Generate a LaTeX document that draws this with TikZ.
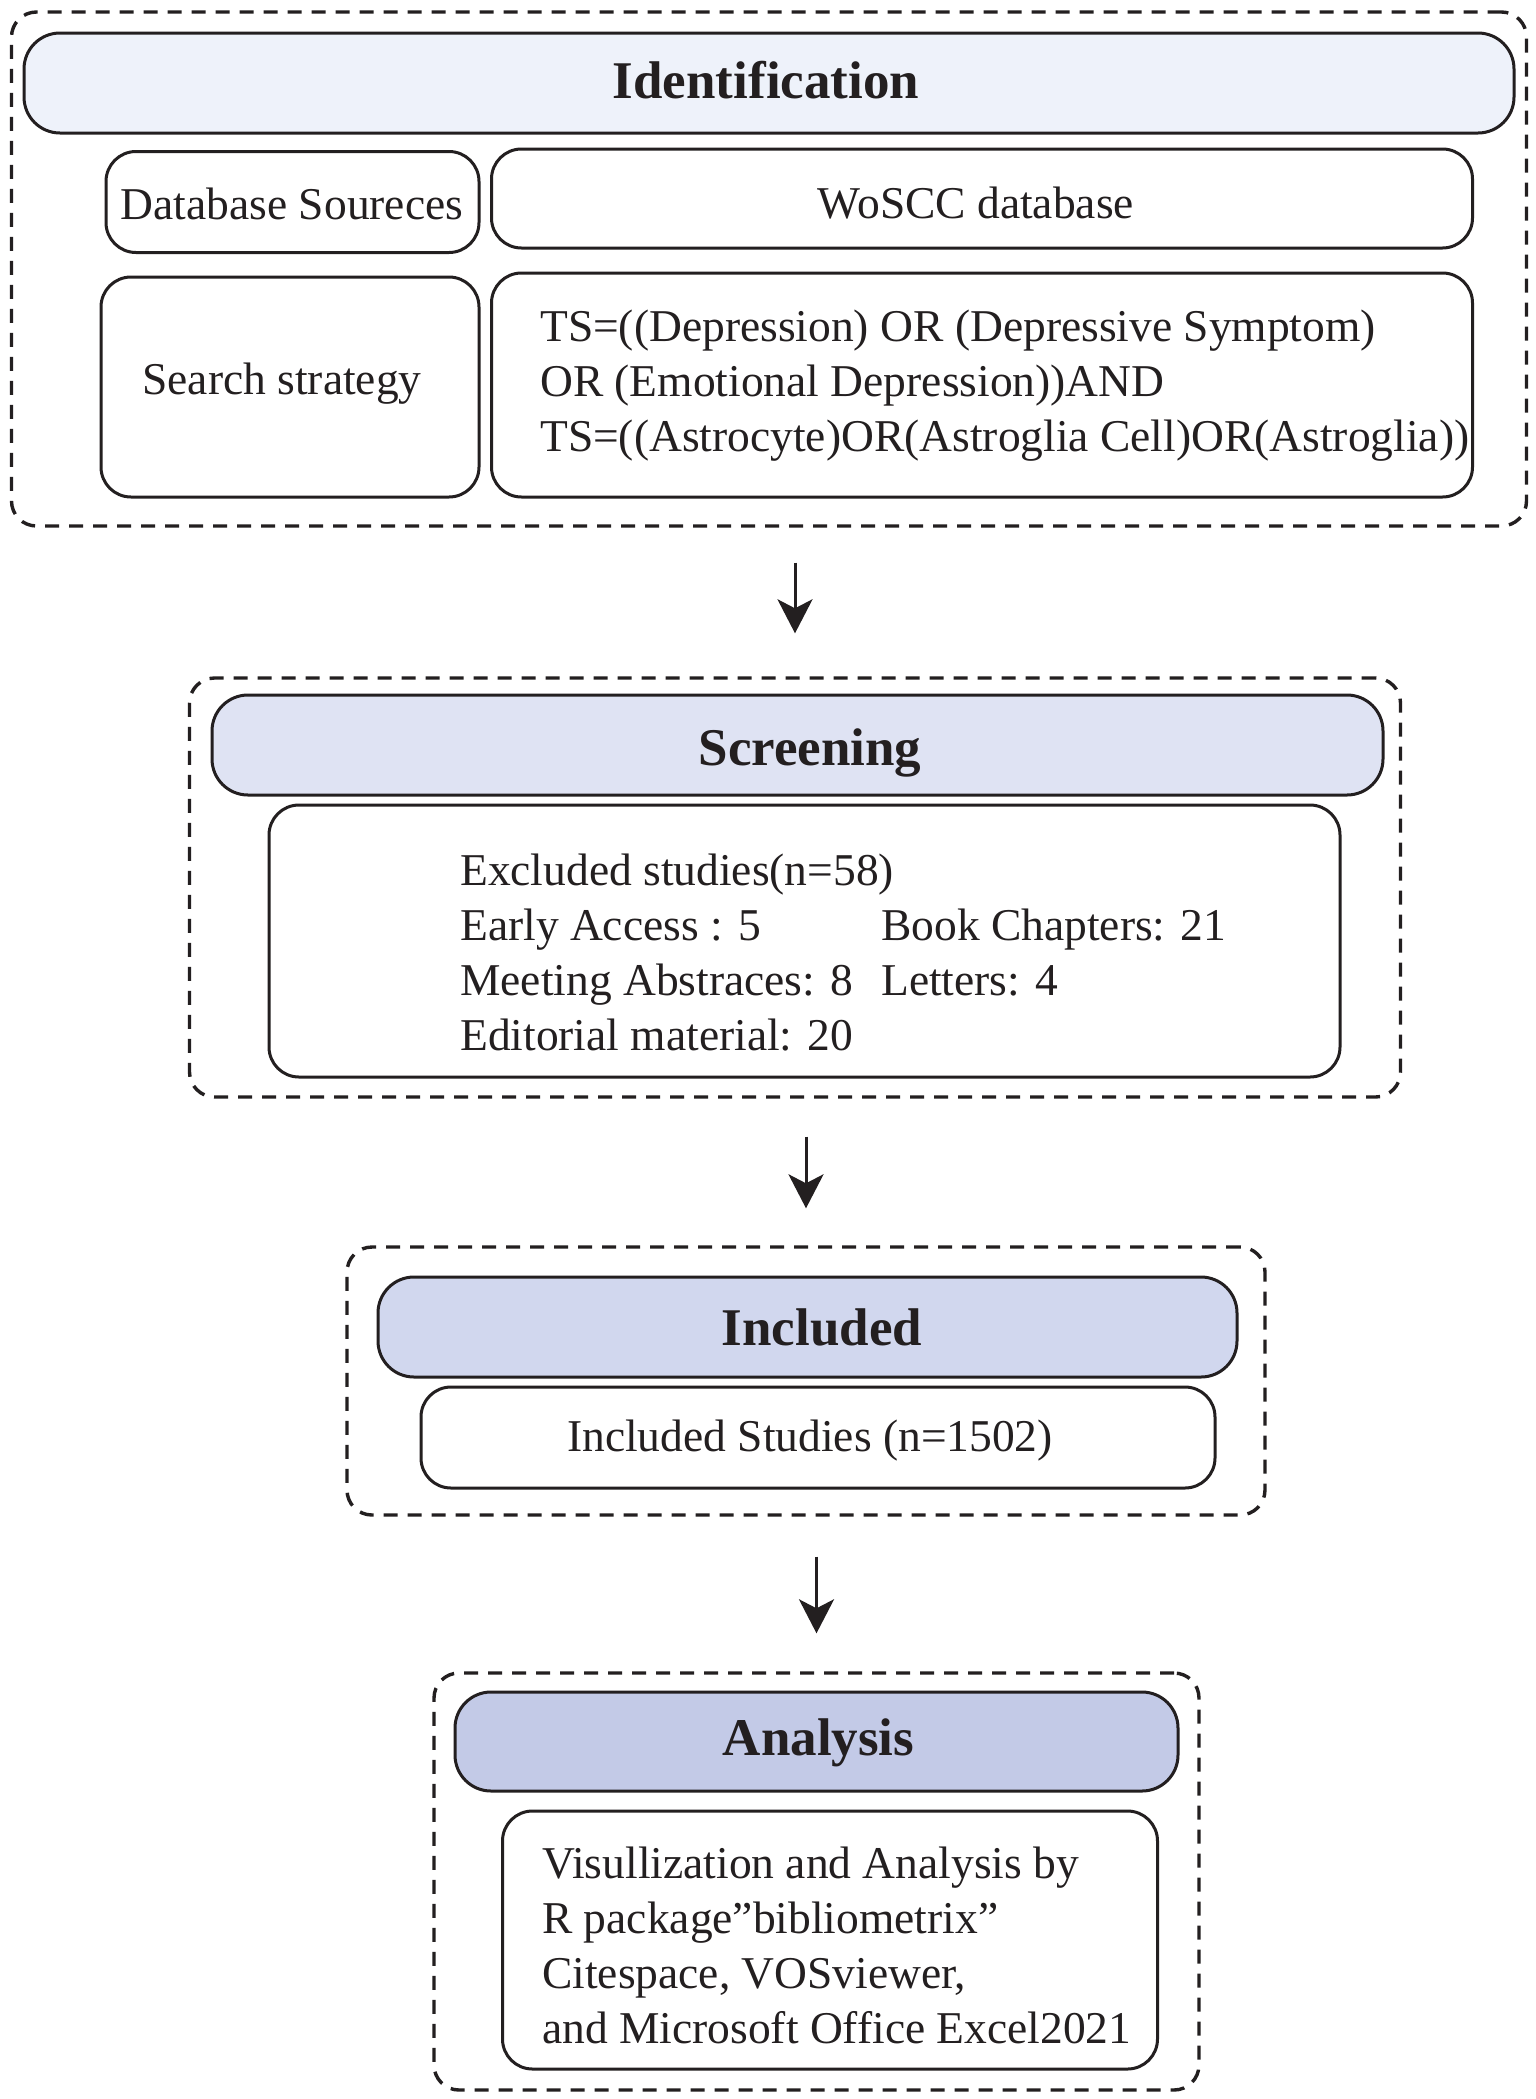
\documentclass[tikz,border=0pt]{standalone}
\usepackage{fontspec}
\setmainfont{Liberation Serif}
\usetikzlibrary{arrows.meta}
\definecolor{ink}{RGB}{35,31,32}
\definecolor{cid}{RGB}{238,242,250}
\definecolor{cscr}{RGB}{223,227,243}
\definecolor{cinc}{RGB}{209,215,238}
\definecolor{cana}{RGB}{195,202,231}
\newcommand{\colA}[1]{\makebox[421pt][l]{#1}}
\begin{document}
\begin{tikzpicture}[x=1pt,y=-1pt,
  outerbox/.style={draw=ink, line width=3.4pt, dash pattern=on 14pt off 10pt, rounded corners=25pt, inner sep=0pt},
  headbox/.style={draw=ink, line width=3pt, rounded corners=36pt, inner sep=0pt},
  contentbox/.style={draw=ink, line width=3pt, rounded corners=30pt, inner sep=0pt, fill=white},
  titletext/.style={text=ink, inner sep=0pt, font=\fontsize{53}{60}\selectfont\bfseries},
  bodytext/.style={text=ink, inner sep=0pt, font=\fontsize{45.5}{55}\selectfont, align=left},
  flowarrow/.style={draw=ink, line width=3pt, -{Stealth[length=34pt,width=35pt,inset=9pt]}}
]
\useasboundingbox (0,0) rectangle (1535,2099);
\fill[white] (0,0) rectangle (1535,2099);

% ---------- Identification ----------
\node[outerbox, minimum width=1515pt, minimum height=514pt] (idouter) at (769,269) {};
\node[headbox, fill=cid, minimum width=1490pt, minimum height=100pt] (idhead) at (769,83) {};
\node[titletext] (idtitle) at (766,80) {Identification};
\node[contentbox, minimum width=373pt, minimum height=101pt] (dbs) at (292.5,202) {};
\node[bodytext] (dbstext) at (292,204) {Database Soureces};
\node[contentbox, minimum width=981pt, minimum height=99pt] (wos) at (982,198.5) {};
\node[bodytext] (wostext) at (976,203) {WoSCC database};
\node[contentbox, minimum width=378pt, minimum height=220pt] (ss) at (290,387) {};
\node[bodytext] (sstext) at (282,384) {Search strategy};
\node[contentbox, minimum width=981pt, minimum height=224pt] (ts) at (982,385) {};
\node[bodytext, anchor=west] (tstext) at (540,386) {TS=((Depression) OR (Depressive Symptom)\\OR (Emotional Depression))AND\\TS=((Astrocyte)OR(Astroglia Cell)OR(Astroglia))};

% ---------- Screening ----------
\node[outerbox, minimum width=1211pt, minimum height=419pt] (scrouter) at (795,887.5) {};
\node[headbox, fill=cscr, minimum width=1171pt, minimum height=100pt] (scrhead) at (797.5,745) {};
\node[titletext] (scrtitle) at (810,753) {Screening};
\node[contentbox, minimum width=1071pt, minimum height=272pt] (exc) at (804.5,941) {};
\node[bodytext, anchor=west] (exctext) at (460,957) {%
\begin{tabular}{@{}l@{}l@{}}
\colA{Excluded studies(n=58)} & \\
\colA{Early Access : 5} & Book Chapters: 21\\
\colA{Meeting Abstraces: 8} & Letters: 4\\
\colA{Editorial material: 20} &
\end{tabular}};

% ---------- Included ----------
\node[outerbox, minimum width=918pt, minimum height=268pt] (incouter) at (806,1381) {};
\node[headbox, fill=cinc, minimum width=859pt, minimum height=100pt] (inchead) at (807.5,1327) {};
\node[titletext] (inctitle) at (822,1327) {Included};
\node[contentbox, minimum width=794pt, minimum height=101pt] (incst) at (818,1437.5) {};
\node[bodytext] (incsttext) at (810,1441) {Included Studies (n=1502)};

% ---------- Analysis ----------
\node[outerbox, minimum width=765pt, minimum height=417pt] (anaouter) at (816.5,1881.5) {};
\node[headbox, fill=cana, minimum width=723pt, minimum height=99pt] (anahead) at (816.5,1741.5) {};
\node[titletext] (anatitle) at (818.5,1743) {Analysis};
\node[contentbox, minimum width=655pt, minimum height=258pt] (anabody) at (830,1940) {};
\node[bodytext, anchor=west] (anatext) at (542,1945) {Visullization and Analysis by\\R package”bibliometrix”\\Citespace, VOSviewer,\\and Microsoft Office Excel2021};

% ---------- Arrows ----------
\draw[flowarrow, shorten <=35pt, shorten >=43pt] (scrouter.north |- idouter.south) -- (scrouter.north);
\draw[flowarrow, shorten <=38pt, shorten >=37pt] (incouter.north |- scrouter.south) -- (incouter.north);
\draw[flowarrow, shorten <=40pt, shorten >=38pt] (anaouter.north |- incouter.south) -- (anaouter.north);
\end{tikzpicture}
\end{document}
